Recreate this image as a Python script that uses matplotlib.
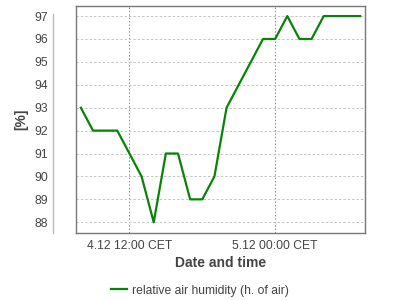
import datetime as dt
import matplotlib
matplotlib.use('Agg')
import matplotlib.pyplot as plt
import matplotlib.dates as mdates

# hourly readings, 4.12 08:00 -> 5.12 07:00
start = dt.datetime(2011, 12, 4, 8, 0)
hours = list(range(24))
humidity = [93, 92, 92, 92, 91, 90, 88, 91, 91, 89, 89, 90,
            93, 94, 95, 96, 96, 97, 96, 96, 97, 97, 97, 97]
tick_times = [dt.datetime(2011, 12, 4, 12, 0), dt.datetime(2011, 12, 5, 0, 0)]
yticks = [88, 89, 90, 91, 92, 93, 94, 95, 96, 97]

times = [start + dt.timedelta(hours=h) for h in hours]

plt.rcParams['font.family'] = ['Liberation Sans', 'DejaVu Sans']
txt = '#444444'

fig = plt.figure(figsize=(4, 3), dpi=100)
ax = fig.add_axes([0.189, 0.2233, 0.7245, 0.7567])

ax.plot(times, humidity, color='#078407', lw=1.6, solid_joinstyle='round',
        label='relative air humidity (h. of air)')

pad = dt.timedelta(minutes=26)
ax.set_xlim(times[0] - pad, times[-1] + pad)
ax.set_ylim(87.53, 97.44)
ax.set_yticks(yticks)
ax.set_xticks(tick_times)
ax.xaxis.set_major_formatter(plt.FuncFormatter(
    lambda v, p: '%d.%d %s CET' % (mdates.num2date(v).day, mdates.num2date(v).month,
                                  mdates.num2date(v).strftime('%H:%M'))))

ax.grid(axis='y', color='#c4c4c4', ls=(0, (2.5, 2)), lw=0.7)
ax.grid(axis='x', color='#888888', ls=(0, (1.5, 2)), lw=0.7)
ax.set_axisbelow(True)

for s in ['top', 'right', 'bottom']:
    ax.spines[s].set_color('#777777')
    ax.spines[s].set_linewidth(1.0)
ax.spines['left'].set_position(('outward', 16))
ax.spines['left'].set_color('#bbbbbb')
ax.spines['left'].set_linewidth(1.0)
ax.spines['left'].set_bounds(87.53, 97.1)
# left border of the plot box
ax.plot([0, 0], [0, 1], transform=ax.transAxes, color='#777777', lw=1.0, clip_on=False)

ax.tick_params(axis='both', length=0, labelsize=8.7, labelcolor=txt)
ax.tick_params(axis='y', pad=4)
ax.tick_params(axis='x', pad=5)

ax.set_xlabel('Date and time', fontsize=10, fontweight='bold', color=txt, labelpad=3)
ax.set_ylabel('[%]', fontsize=10, fontweight='bold', color=txt, labelpad=4)

fig.legend(loc='lower center', bbox_to_anchor=(0.5, -0.025), frameon=False,
           fontsize=8.7, handlelength=1.3, handletextpad=0.4, labelcolor=txt)

fig.savefig('out.png', dpi=100)
